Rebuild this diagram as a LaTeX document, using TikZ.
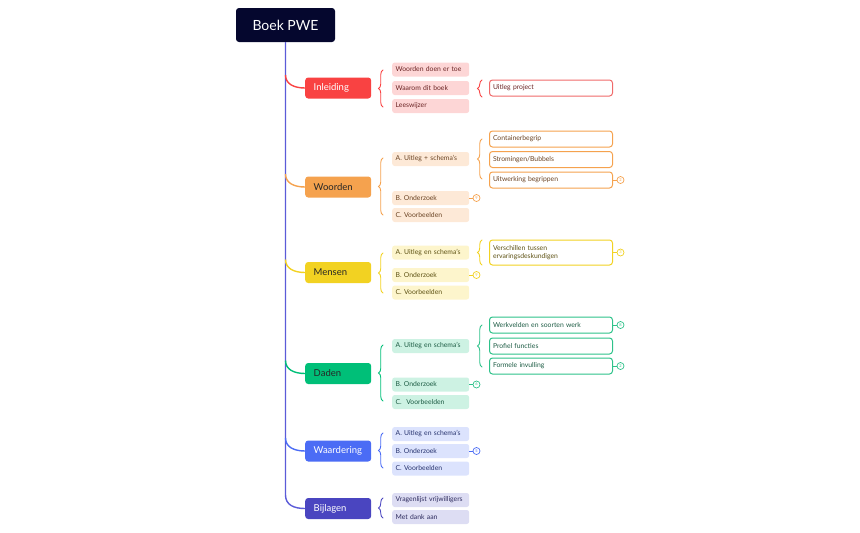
\documentclass[tikz,border=0pt]{standalone}
\usepackage{fontspec}
\setmainfont{Lato}
\usetikzlibrary{decorations.pathreplacing,calc}
\definecolor{rootc}{HTML}{05072E}
\definecolor{spinec}{HTML}{5B5BD8}
\definecolor{inlc}{HTML}{F94242}
\definecolor{inlf}{HTML}{FDD6D6}
\definecolor{inlt}{HTML}{6B2424}
\definecolor{inlb}{HTML}{F06A6A}
\definecolor{wooc}{HTML}{F5A24E}
\definecolor{woof}{HTML}{FDE9D7}
\definecolor{woot}{HTML}{6B4424}
\definecolor{menc}{HTML}{F2D222}
\definecolor{menf}{HTML}{FDF5CC}
\definecolor{ment}{HTML}{5E5214}
\definecolor{dadc}{HTML}{00BF78}
\definecolor{dadf}{HTML}{CDF2E3}
\definecolor{dadt}{HTML}{1D5C44}
\definecolor{dadb}{HTML}{2EC28A}
\definecolor{waac}{HTML}{4B6CF5}
\definecolor{waaf}{HTML}{DCE3FD}
\definecolor{waat}{HTML}{27336E}
\definecolor{bijc}{HTML}{4A45C0}
\definecolor{bijf}{HTML}{DDDDF3}
\definecolor{bijt}{HTML}{2D2B5E}
\tikzset{
  rootbox/.style={fill=rootc, text=white, rounded corners=3pt, minimum width=99pt, minimum height=34pt, inner sep=0pt, font=\fontsize{14}{16}\selectfont},
  mainbox/.style={fill=#1, rounded corners=3pt, minimum height=21pt, text width=49pt, inner xsep=8.5pt, inner ysep=0pt, align=left, anchor=west, font=\fontsize{9.5}{11}\selectfont},
  smallbox/.style 2 args={fill=#1, text=#2, rounded corners=2.5pt, minimum height=14pt, text width=70pt, inner xsep=3.5pt, inner ysep=0pt, align=left, anchor=west, font=\fontsize{6.8}{8}\selectfont},
  subbox/.style 2 args={draw=#1, line width=1pt, fill=white, text=#2, rounded corners=3pt, minimum height=16pt, text width=116pt, inner xsep=3.5pt, inner ysep=0pt, align=left, anchor=west, font=\fontsize{6.8}{8.4}\selectfont},
  badge/.style={draw=#1, text=#1, fill=white, circle, line width=0.7pt, minimum size=7pt, inner sep=0pt, font=\fontsize{4}{4}\selectfont},
  bline/.style={draw=#1, line width=0.8pt},
  bracec/.style={draw=#1, line width=0.9pt, line cap=round, decorate, decoration={brace, amplitude=4.5pt}},
  branch/.style={draw=#1, line width=1.4pt},
}
\begin{document}
\begin{tikzpicture}[x=1pt,y=-1pt]
\useasboundingbox (0,0) rectangle (860,533);
% root
\node[rootbox] (root) at (285.5,25) {Boek PWE};
% main nodes
\node[mainbox=inlc, text=white] (inl) at (305,88) {Inleiding};
\node[mainbox=wooc, text=black!85] (woo) at (305,187) {Woorden};
\node[mainbox=menc, text=black!85] (men) at (305,272.5) {Mensen};
\node[mainbox=dadc, text=black!85] (dad) at (305,373.5) {Daden};
\node[mainbox=waac, text=white] (waa) at (305,451) {Waardering};
\node[mainbox=bijc, text=white] (bij) at (305,508.5) {Bijlagen};
% spine coordinates
\coordinate (s1) at (285.5,75);
\coordinate (s2) at (285.5,174);
\coordinate (s3) at (285.5,259.5);
\coordinate (s4) at (285.5,360.5);
\coordinate (s5) at (285.5,438);
\coordinate (s6) at (285.5,495);
\draw[branch=spinec] (root.south) -- (s6) .. controls +(0,10) and +(-11,0) .. (bij.west);
\draw[branch=inlc] (s1) .. controls +(0,9) and +(-11,0) .. (inl.west);
\draw[branch=wooc] (s2) .. controls +(0,9) and +(-11,0) .. (woo.west);
\draw[branch=menc] (s3) .. controls +(0,9) and +(-11,0) .. (men.west);
\draw[branch=dadc] (s4) .. controls +(0,9) and +(-11,0) .. (dad.west);
\draw[branch=waac] (s5) .. controls +(0,9) and +(-11,0) .. (waa.west);

% ---------- Inleiding
\draw[bracec=inlc] (383,107) -- (383,70);
\node[smallbox={inlf}{inlt}] (i1) at (392,69.5) {Woorden doen er toe};
\node[smallbox={inlf}{inlt}] (i2) at (392,88) {Waarom dit boek};
\node[smallbox={inlf}{inlt}] (i3) at (392,106) {Leeswijzer};
\draw[bracec=inlc] (482,97) -- (482,80);
\node[subbox={inlb}{inlt}] (i21) at (489,88) {Uitleg project};

% ---------- Woorden
\draw[bracec=wooc] (383,215) -- (383,158);
\node[smallbox={woof}{woot}] (w1) at (392,159) {A. Uitleg + schema's};
\node[smallbox={woof}{woot}] (w2) at (392,198) {B. Onderzoek};
\node[smallbox={woof}{woot}] (w3) at (392,215) {C. Voorbeelden};
\node[badge=wooc] (wb2) at (476.5,198) {9};
\draw[bline=wooc] (w2.east) -- (wb2.west);
\draw[bracec=wooc] (482,179) -- (482,139);
\node[subbox={wooc}{woot}] (w11) at (489,139) {Containerbegrip};
\node[subbox={wooc}{woot}] (w12) at (489,159.5) {Stromingen/Bubbels};
\node[subbox={wooc}{woot}] (w13) at (489,180) {Uitwerking begrippen};
\node[badge=wooc] (wb13) at (620.5,180) {2};
\draw[bline=wooc] (w13.east) -- (wb13.west);

% ---------- Mensen
\draw[bracec=menc] (383,293) -- (383,253);
\node[smallbox={menf}{ment}] (m1) at (392,252.5) {A. Uitleg en schema's};
\node[smallbox={menf}{ment}] (m2) at (392,275) {B. Onderzoek};
\node[smallbox={menf}{ment}] (m3) at (392,292.5) {C. Voorbeelden};
\node[badge=menc] (mb2) at (476.5,275) {9};
\draw[bline=menc] (m2.east) -- (mb2.west);
\draw[bracec=menc] (482,265) -- (482,240);
\node[subbox={menc}{ment}, minimum height=25pt] (m11) at (489,252.5) {Verschillen tussen\\ervaringsdeskundigen};
\node[badge=menc] (mb11) at (620.5,252.5) {3};
\draw[bline=menc] (m11.east) -- (mb11.west);

% ---------- Daden
\draw[bracec=dadc] (383,401) -- (383,345);
\node[smallbox={dadf}{dadt}] (d1) at (392,346) {A. Uitleg en schema's};
\node[smallbox={dadf}{dadt}] (d2) at (392,384.5) {B. Onderzoek};
\node[smallbox={dadf}{dadt}] (d3) at (392,402) {C.\ \ Voorbeelden};
\node[badge=dadb] (db2) at (476.5,384.5) {6};
\draw[bline=dadb] (d2.east) -- (db2.west);
\draw[bracec=dadb] (482,367) -- (482,325);
\node[subbox={dadb}{dadt}] (d11) at (489,325) {Werkvelden en soorten werk};
\node[subbox={dadb}{dadt}] (d12) at (489,346) {Profiel functies};
\node[subbox={dadb}{dadt}] (d13) at (489,366) {Formele invulling};
\node[badge=dadb] (db11) at (620.5,325) {8};
\draw[bline=dadb] (d11.east) -- (db11.west);
\node[badge=dadb] (db13) at (620.5,366) {2};
\draw[bline=dadb] (d13.east) -- (db13.west);

% ---------- Waardering
\draw[bracec=waac] (383,468) -- (383,433);
\node[smallbox={waaf}{waat}] (a1) at (392,434) {A. Uitleg en schema's};
\node[smallbox={waaf}{waat}] (a2) at (392,451) {B. Onderzoek};
\node[smallbox={waaf}{waat}] (a3) at (392,468.5) {C. Voorbeelden};
\node[badge=waac] (ab2) at (476.5,451) {5};
\draw[bline=waac] (a2.east) -- (ab2.west);

% ---------- Bijlagen
\draw[bracec=bijc] (383,518) -- (383,498);
\node[smallbox={bijf}{bijt}] (b1) at (392,500) {Vragenlijst vrijwilligers};
\node[smallbox={bijf}{bijt}] (b2) at (392,517) {Met dank aan};
\end{tikzpicture}
\end{document}
